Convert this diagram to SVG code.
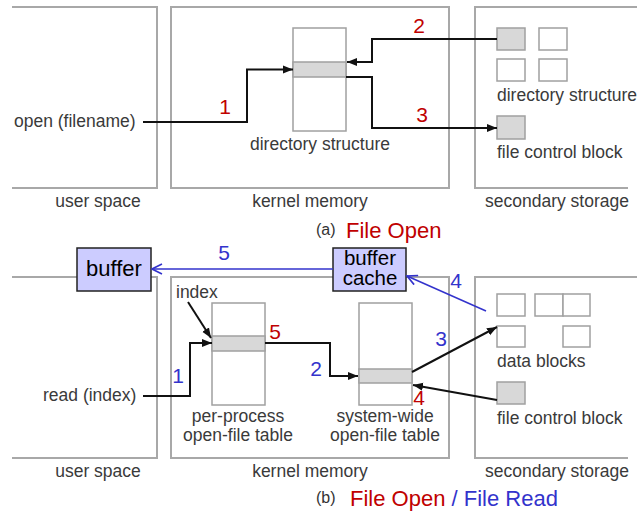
<svg xmlns="http://www.w3.org/2000/svg" width="637" height="515" viewBox="0 0 637 515">
<style>
text{font-family:"Liberation Sans",Arial,sans-serif}
.lbl{font-size:17.5px;fill:#3a3a3a}
.num{font-size:21px}
.red{fill:#c00000}
.blue{fill:#3333cc}
.area{fill:none;stroke:#a8a8a8;stroke-width:2}
.tbl{fill:#fff;stroke:#a0a0a0;stroke-width:1.5}
.row{fill:#d8d8d8;stroke:#a0a0a0;stroke-width:1.5}
.blk{fill:#fff;stroke:#a0a0a0;stroke-width:1.5}
.blkg{fill:#d8d8d8;stroke:#a0a0a0;stroke-width:1.5}
.conn{fill:none;stroke:#111;stroke-width:2}
.bconn{fill:none;stroke:#3333cc;stroke-width:1.5}
.buf{fill:#ccccff;stroke:#222;stroke-width:1.5}
</style>
<defs>
<marker id="ah" viewBox="0 0 10 10" refX="10" refY="5" markerWidth="10" markerHeight="10" markerUnits="userSpaceOnUse" orient="auto">
<path d="M0,1 L10,5 L0,9 z" fill="#111"/>
</marker>
<marker id="bh" viewBox="0 0 12 12" refX="11" refY="6" markerWidth="12" markerHeight="12" markerUnits="userSpaceOnUse" orient="auto">
<path d="M1,1 L11,6 L1,11" fill="none" stroke="#3333cc" stroke-width="1.6"/>
</marker>
</defs>
<rect width="637" height="515" fill="#fff"/>

<!-- (a) File Open -->
<g id="a-user-space">
<path class="area" d="M12,7 H157 V188 H12"/>
<text class="lbl" x="14" y="127">open (filename)</text>
<text class="lbl" x="98" y="207" text-anchor="middle">user space</text>
</g>
<g id="a-kernel-memory">
<rect class="area" x="171" y="7" width="278" height="181"/>
<text class="lbl" x="310" y="207" text-anchor="middle">kernel memory</text>
</g>
<g id="a-dir-table">
<rect class="tbl" x="293" y="28" width="53" height="103"/>
<rect class="row" x="293" y="62" width="53" height="15"/>
<text class="lbl" x="320" y="150" text-anchor="middle">directory structure</text>
</g>
<g id="a-secondary-storage">
<path class="area" d="M637,7 H475 V188 H628"/>
<text class="lbl" x="557" y="207" text-anchor="middle">secondary storage</text>
</g>
<g id="a-dir-blocks">
<rect class="blkg" x="497" y="28" width="28" height="22"/>
<rect class="blk" x="539" y="28" width="28" height="22"/>
<rect class="blk" x="497" y="59" width="28" height="22"/>
<rect class="blk" x="539" y="59" width="28" height="22"/>
<text class="lbl" x="497" y="101">directory structure</text>
</g>
<g id="a-fcb">
<rect class="blkg" x="497" y="116" width="28" height="23"/>
<text class="lbl" x="497" y="158">file control block</text>
</g>
<g id="a-caption">
<text x="316" y="235" font-size="16" fill="#333">(a)</text>
<text x="346" y="238" font-size="22" class="red">File Open</text>
</g>
<g id="a-connectors">
<path class="conn" d="M143,122 H247 V69.5 H293" marker-end="url(#ah)"/>
<path class="conn" d="M497,39 H372 V62 H347" marker-end="url(#ah)"/>
<path class="conn" d="M346,77 H372 V128 H497" marker-end="url(#ah)"/>
<text class="num red" x="225" y="114" text-anchor="middle">1</text>
<text class="num red" x="419" y="33" text-anchor="middle">2</text>
<text class="num red" x="422" y="122" text-anchor="middle">3</text>
</g>

<!-- (b) File Open / File Read -->
<g id="b-user-space">
<path class="area" d="M12,277 H157 V458 H12"/>
<text class="lbl" x="43" y="401">read (index)</text>
<text class="lbl" x="98" y="477" text-anchor="middle">user space</text>
</g>
<g id="b-kernel-memory">
<rect class="area" x="171" y="277" width="278" height="181"/>
<text class="lbl" x="310" y="477" text-anchor="middle">kernel memory</text>
</g>
<g id="b-secondary-storage">
<path class="area" d="M637,277 H475 V458 H628"/>
<text class="lbl" x="557" y="477" text-anchor="middle">secondary storage</text>
</g>
<g id="b-per-process">
<rect class="tbl" x="212" y="303" width="53" height="102"/>
<rect class="row" x="212" y="336" width="53" height="15"/>
<text class="lbl" x="238" y="422" text-anchor="middle">per-process</text>
<text class="lbl" x="238" y="441" text-anchor="middle">open-file table</text>
</g>
<g id="b-system-wide">
<rect class="tbl" x="359" y="303" width="53" height="102"/>
<rect class="row" x="359" y="369" width="53" height="14"/>
<text class="lbl" x="385" y="422" text-anchor="middle">system-wide</text>
<text class="lbl" x="385" y="441" text-anchor="middle">open-file table</text>
</g>
<g id="b-data-blocks">
<rect class="blk" x="497" y="294" width="28" height="22"/>
<rect class="blk" x="535" y="294" width="28" height="22"/>
<rect class="blk" x="563" y="294" width="27" height="22"/>
<rect class="blk" x="497" y="326" width="28" height="21"/>
<rect class="blk" x="563" y="326" width="27" height="21"/>
<text class="lbl" x="497" y="367">data blocks</text>
</g>
<g id="b-fcb">
<rect class="blkg" x="497" y="382" width="28" height="22"/>
<text class="lbl" x="497" y="424">file control block</text>
</g>
<g id="b-index-label">
<text class="lbl" x="176" y="298" font-size="16.5">index</text>
</g>
<g id="b-buffer">
<rect class="buf" x="77" y="248" width="74" height="43"/>
<text x="114" y="276" font-size="22" fill="#000" text-anchor="middle">buffer</text>
</g>
<g id="b-buffer-cache">
<rect class="buf" x="333" y="248" width="73" height="43"/>
<text x="370" y="265" font-size="20.5" fill="#000" text-anchor="middle">buffer</text>
<text x="370" y="285" font-size="20.5" fill="#000" text-anchor="middle">cache</text>
</g>
<g id="b-caption">
<text x="316" y="503" font-size="16" fill="#333">(b)</text>
<text x="350" y="506" font-size="22"><tspan class="red">File Open</tspan><tspan class="blue"> / File Read</tspan></text>
</g>
<g id="b-connectors">
<path class="conn" d="M143,396 H190 V343 H212" marker-end="url(#ah)"/>
<path class="conn" d="M188,302 L211,338" marker-end="url(#ah)"/>
<path class="conn" d="M265,343 H330 V376 H358" marker-end="url(#ah)"/>
<path class="conn" d="M412,372 L497,327" marker-end="url(#ah)"/>
<path class="conn" d="M497,400 L413,385" marker-end="url(#ah)"/>
<path class="bconn" d="M333,269 H152" marker-end="url(#bh)"/>
<path class="bconn" d="M486,311 L407,276" marker-end="url(#bh)"/>
<text class="num blue" x="224" y="260" text-anchor="middle">5</text>
<text class="num red" x="275" y="339" text-anchor="middle">5</text>
<text class="num blue" x="178" y="383" text-anchor="middle">1</text>
<text class="num blue" x="316" y="376" text-anchor="middle">2</text>
<text class="num blue" x="441" y="346" text-anchor="middle">3</text>
<text class="num red" x="419" y="405" text-anchor="middle">4</text>
<text class="num blue" x="456" y="288" text-anchor="middle">4</text>
</g>
</svg>
